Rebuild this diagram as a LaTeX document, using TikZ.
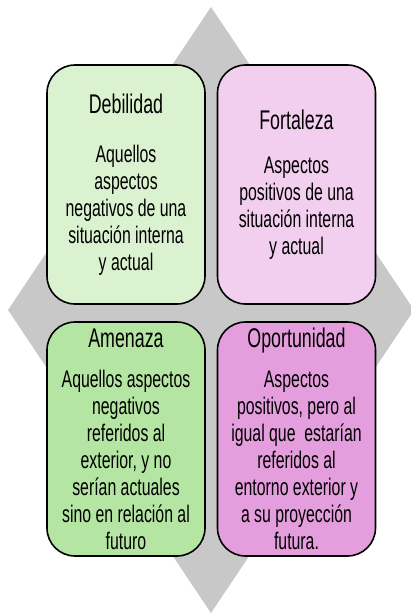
\documentclass[tikz,border=0pt]{standalone}
\usepackage{fontspec}
\setmainfont[FakeStretch=0.66]{Liberation Sans}
\definecolor{rombo}{RGB}{200,200,200}
\definecolor{debil}{RGB}{218,242,208}
\definecolor{forta}{RGB}{242,206,239}
\definecolor{amena}{RGB}{180,229,162}
\definecolor{oport}{RGB}{229,158,221}
\newcommand{\titulo}[1]{{\fontsize{27}{28}\selectfont #1}}
\begin{document}
\begin{tikzpicture}[x=1pt,y=-1pt,
  caja/.style={draw=black,line width=1.6pt,rounded corners=28pt,minimum width=158pt,
    align=center,inner sep=0pt,font=\fontsize{24}{27}\selectfont}]
\useasboundingbox (0,0) rectangle (411,614);
\fill[rombo] (211,7) -- (414,310) -- (211,613) -- (8,310) -- cycle;
\node[caja,fill=debil,minimum height=239pt] (deb) at (126,184.5)
  {\titulo{Debilidad}\\[22pt] Aquellos\\aspectos\\negativos de una\\situación interna\\y actual};
\node[caja,fill=forta,minimum height=239pt] (fort) at (296.5,184.5)
  {\titulo{Fortaleza}\\[17pt] Aspectos\\positivos de una\\situación interna\\y actual};
\node[caja,fill=amena,minimum height=234pt] (amen) at (126,439)
  {\titulo{Amenaza}\\[13pt] Aquellos aspectos\\negativos\\referidos al\\exterior, y no\\serían actuales\\sino en relación al\\futuro};
\node[caja,fill=oport,minimum height=234pt] (opor) at (296.5,439)
  {\titulo{Oportunidad}\\[13pt] Aspectos\\positivos, pero al\\igual que\ \ estarían\\referidos al\\entorno exterior y\\a su proyección\\futura.};
\end{tikzpicture}
\end{document}
